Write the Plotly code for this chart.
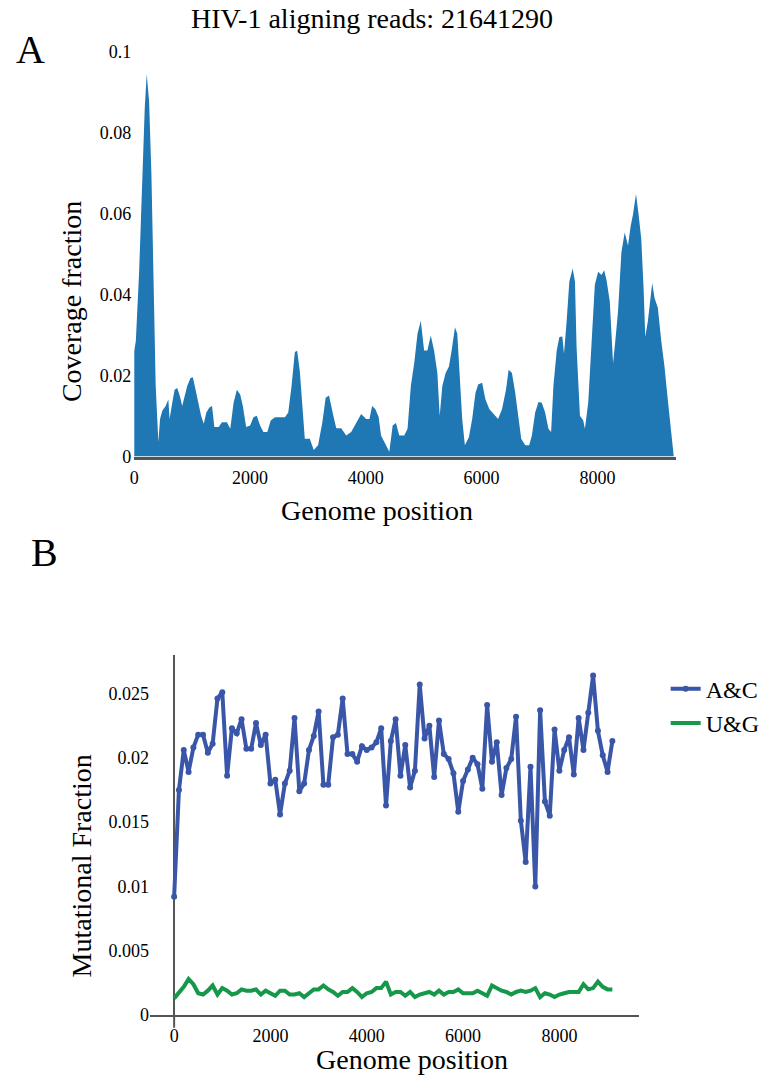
import plotly.graph_objects as go

W, H = 768, 1084

# ---------------- Panel A data: coverage fraction vs genome position ----------------
posA = [0, 29, 86, 143, 183, 217, 258, 298, 332, 372, 418, 447, 486, 544, 590, 612, 658, 698,
        744, 790, 830, 876, 916, 973, 1013, 1047, 1099, 1156, 1202, 1247, 1299, 1345, 1385,
        1459, 1517, 1602, 1660, 1717, 1774, 1831, 1877, 1934, 2003, 2060, 2117, 2175, 2232,
        2300, 2358, 2432, 2518, 2604, 2661, 2718, 2775, 2815, 2861, 2901, 2947, 3033, 3101,
        3176, 3250, 3307, 3365, 3433, 3490, 3576, 3662, 3748, 3834, 3920, 4006, 4063, 4109,
        4166, 4223, 4263, 4349, 4406, 4464, 4521, 4578, 4664, 4721, 4778, 4836, 4893, 4950,
        5007, 5064, 5122, 5179, 5236, 5276, 5322, 5379, 5436, 5482, 5540, 5580, 5625, 5665,
        5711, 5780, 5837, 5894, 5940, 6009, 6066, 6135, 6209, 6284, 6352, 6421, 6467, 6524,
        6581, 6627, 6684, 6753, 6822, 6868, 6925, 6982, 7039, 7097, 7154, 7200, 7240, 7297,
        7343, 7394, 7423, 7469, 7515, 7572, 7612, 7640, 7698, 7755, 7784, 7841, 7898, 7955,
        8013, 8070, 8116, 8156, 8213, 8270, 8310, 8356, 8414, 8471, 8528, 8574, 8614, 8666,
        8711, 8757, 8797, 8826, 8872, 8918, 8946, 8986, 9043, 9101, 9158, 9215, 9272, 9318]
covA = [0.026, 0.0285, 0.0456, 0.0698, 0.086, 0.0944, 0.0876, 0.0698, 0.0416, 0.0174, 0.0036,
        0.0093, 0.0113, 0.0125, 0.0141, 0.0093, 0.0133, 0.0165, 0.0169, 0.0149, 0.0125, 0.0149,
        0.0174, 0.0194, 0.0196, 0.0174, 0.0141, 0.0101, 0.0081, 0.0109, 0.0121, 0.0125, 0.0073,
        0.0073, 0.0085, 0.0085, 0.0069, 0.0133, 0.0165, 0.0153, 0.0125, 0.0073, 0.0077, 0.0097,
        0.0101, 0.0077, 0.0061, 0.0061, 0.0089, 0.0097, 0.0097, 0.0097, 0.0109, 0.0174, 0.0258,
        0.0261, 0.0210, 0.0133, 0.0044, 0.0044, 0.0016, 0.0028, 0.0085, 0.0145, 0.0151, 0.0105,
        0.0070, 0.0070, 0.0052, 0.0061, 0.0085, 0.0105, 0.0093, 0.0093, 0.0125, 0.0117, 0.0097,
        0.0052, 0.0028, 0.0012, 0.0077, 0.0083, 0.0052, 0.0052, 0.0069, 0.0174, 0.0230, 0.0303,
        0.0335, 0.0262, 0.0262, 0.0299, 0.0262, 0.0206, 0.0101, 0.0174, 0.0206, 0.0222, 0.0262,
        0.0319, 0.0303, 0.0190, 0.0093, 0.0028, 0.0048, 0.0093, 0.0157, 0.0178, 0.0182, 0.0141,
        0.0117, 0.0105, 0.0093, 0.0117, 0.0165, 0.0214, 0.0206, 0.0157, 0.0101, 0.0044, 0.0028,
        0.0028, 0.0052, 0.0109, 0.0135, 0.0133, 0.0109, 0.0069, 0.0061, 0.0174, 0.0262, 0.0295,
        0.0296, 0.0254, 0.0335, 0.0432, 0.0464, 0.0432, 0.0270, 0.0101, 0.0089, 0.0069, 0.0133,
        0.0295, 0.0424, 0.0456, 0.0448, 0.0460, 0.0436, 0.0383, 0.0230, 0.0287, 0.0359, 0.0504,
        0.0553, 0.0521, 0.0569, 0.0597, 0.0648, 0.0597, 0.0537, 0.0416, 0.0295, 0.0335, 0.0391,
        0.0428, 0.0391, 0.0367, 0.0287, 0.0222, 0.0141, 0.0061, 0.0]

# ---------------- Panel B data: mutational fraction ----------------
posB = list(range(0, 9200, 100))
ac = [0.0092, 0.0175, 0.0206, 0.0189, 0.0208, 0.0218, 0.0218, 0.0204, 0.0211, 0.0246,
      0.0251, 0.0186, 0.0223, 0.0219, 0.0230, 0.0207, 0.0207, 0.0227, 0.0210, 0.0218,
      0.0180, 0.0183, 0.0156, 0.0180, 0.0190, 0.0231, 0.0174, 0.0180, 0.0206, 0.0217,
      0.0236, 0.0179, 0.0179, 0.0216, 0.0218, 0.0246, 0.0203, 0.0203, 0.0197, 0.0209,
      0.0206, 0.0208, 0.0212, 0.0223, 0.0163, 0.0213, 0.0230, 0.0186, 0.0210, 0.0177,
      0.0190, 0.0257, 0.0215, 0.0225, 0.0185, 0.0229, 0.0203, 0.0199, 0.0188, 0.0158,
      0.0182, 0.0191, 0.0200, 0.0195, 0.0176, 0.0241, 0.0197, 0.0212, 0.0171, 0.0192,
      0.0199, 0.0232, 0.0151, 0.0119, 0.0193, 0.0100, 0.0237, 0.0166, 0.0155, 0.0222,
      0.0190, 0.0206, 0.0216, 0.0187, 0.0231, 0.0206, 0.0235, 0.0264, 0.0221, 0.0202,
      0.0189, 0.0213]
ug = [0.0013, 0.0017, 0.0022, 0.0028, 0.0024, 0.0017, 0.0016, 0.0019, 0.0023, 0.0016,
      0.0021, 0.0019, 0.0016, 0.0017, 0.0020, 0.0019, 0.0019, 0.0020, 0.0016, 0.0019,
      0.0017, 0.0015, 0.0019, 0.0019, 0.0016, 0.0016, 0.0017, 0.0014, 0.0017, 0.0020,
      0.0020, 0.0023, 0.0020, 0.0018, 0.0015, 0.0018, 0.0018, 0.0021, 0.0018, 0.0014,
      0.0017, 0.0018, 0.0021, 0.0021, 0.0026, 0.0016, 0.0018, 0.0018, 0.0015, 0.0018,
      0.0014, 0.0016, 0.0017, 0.0018, 0.0016, 0.0019, 0.0016, 0.0018, 0.0018, 0.0020,
      0.0017, 0.0017, 0.0017, 0.0019, 0.0017, 0.0015, 0.0023, 0.0021, 0.0019, 0.0018,
      0.0016, 0.0018, 0.0019, 0.0018, 0.0019, 0.0021, 0.0014, 0.0017, 0.0016, 0.0014,
      0.0016, 0.0017, 0.0018, 0.0018, 0.0018, 0.0024, 0.0020, 0.0021, 0.0026, 0.0022,
      0.0020, 0.0020]

tickA_vals = [0, 0.02, 0.04, 0.06, 0.08, 0.1]
tickA_text = ["0", "0.02", "0.04", "0.06", "0.08", "0.1"]
tickB_vals = [0, 0.005, 0.01, 0.015, 0.02, 0.025]
tickB_text = ["0", "0.005", "0.01", "0.015", "0.02", "0.025"]
xticks = [0, 2000, 4000, 6000, 8000]

FONT = "Liberation Serif"
BLUE = "rgb(57,86,168)"
GREEN = "rgb(22,152,74)"
AXC = "#555555"


def px(x):
    return x / W


def py(y):
    return 1 - y / H


fig = go.Figure()
fig.add_trace(go.Scatter(x=posA, y=covA, mode="lines", fill="tozeroy",
                         line=dict(width=0, color="#1f77b4"), fillcolor="#1f77b4",
                         showlegend=False, xaxis="x", yaxis="y"))
fig.add_trace(go.Scatter(x=posB, y=ac, mode="lines+markers", name="A&C",
                         line=dict(width=4, color=BLUE), marker=dict(size=6, color=BLUE),
                         xaxis="x2", yaxis="y2"))
fig.add_trace(go.Scatter(x=posB, y=ug, mode="lines", name="U&G",
                         line=dict(width=4, color=GREEN),
                         xaxis="x2", yaxis="y2"))

tickfont = dict(family=FONT, size=18, color="black")

fig.update_layout(
    width=W, height=H, margin=dict(l=0, r=0, t=0, b=0),
    paper_bgcolor="white", plot_bgcolor="white",
    font=dict(family=FONT, color="black"),
    title=dict(text="HIV-1 aligning reads: 21641290", x=px(372), y=py(18),
               xanchor="center", yanchor="middle", font=dict(family=FONT, size=28)),
    xaxis=dict(domain=[px(130), px(675)], range=[0, 9350], tickvals=xticks,
               showgrid=False, zeroline=False, showline=True, linecolor=AXC, linewidth=2.5,
               ticks="", tickfont=tickfont, ticklabelstandoff=3, anchor="y"),
    yaxis=dict(domain=[py(455), py(42)], range=[0, 0.1], tickvals=tickA_vals, ticktext=tickA_text,
               showgrid=False, zeroline=False, showline=False, ticks="", tickfont=tickfont,
               anchor="x", ticklabelstandoff=2),
    xaxis2=dict(domain=[px(146), px(638)], range=[-500, 9650], tickvals=xticks,
                showgrid=False, zeroline=True, zerolinecolor=AXC, zerolinewidth=2,
                showline=True, linecolor=AXC, linewidth=2, ticks="", tickfont=tickfont,
                ticklabelstandoff=3, anchor="y2"),
    yaxis2=dict(domain=[py(1024), py(657)], range=[0, 0.028], tickvals=tickB_vals,
                ticktext=tickB_text, showgrid=False, zeroline=False, showline=False,
                ticks="", tickfont=tickfont, anchor="x2", ticklabelstandoff=0),
    legend=dict(x=px(665), y=py(669), xanchor="left", yanchor="top",
                font=dict(family=FONT, size=24), bgcolor="rgba(0,0,0,0)",
                tracegroupgap=0),
)

# short continuation of the y axis line below the x axis (as in the reference)
fig.add_shape(type="line", xref="x2", yref="paper", x0=0, x1=0, y0=py(1037), y1=py(1024),
              line=dict(color=AXC, width=2))

ann = [
    dict(text="A", x=px(26), y=py(40), size=40, ya="middle"),
    dict(text="B", x=px(40), y=py(553), size=40, ya="middle"),
    dict(text="Coverage fraction", x=px(67), y=py(297), size=28, angle=-90, ya="middle"),
    dict(text="Genome position", x=px(374), y=py(510), size=28, ya="middle"),
    dict(text="Mutational Fraction", x=px(77), y=py(872), size=28, angle=-90, ya="middle"),
    dict(text="Genome position", x=px(410), y=py(1051), size=28, ya="top"),
]
for a in ann:
    fig.add_annotation(text=a["text"], x=a["x"], y=a["y"], xref="paper", yref="paper",
                       xanchor="center", yanchor=a["ya"], showarrow=False,
                       textangle=a.get("angle", 0),
                       font=dict(family=FONT, size=a["size"], color="black"))

fig.write_html("out.html")
